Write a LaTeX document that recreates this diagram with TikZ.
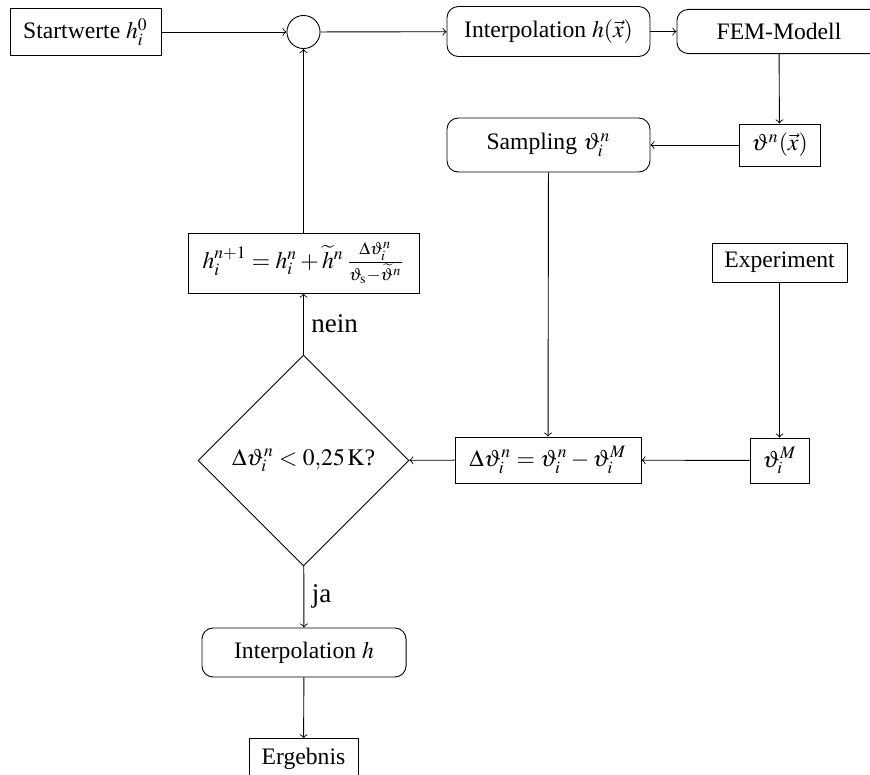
\documentclass[tikz,border=0pt]{standalone}
\usepackage{mathptmx}
\usepackage[no-math]{fontspec}
\setmainfont{Liberation Serif}
\usetikzlibrary{shapes.geometric}
\begin{document}
\begin{tikzpicture}[x=0.4444pt,y=-0.4444pt,>=to,line width=0.4pt,
  every node/.style={font=\fontsize{10.5}{12.5}\selectfont},
  plainbox/.style={draw,rectangle,inner sep=0pt,align=center},
  roundbox/.style={draw,rectangle,rounded corners=5pt,inner sep=0pt,minimum width=90.2pt,align=center},
  decision/.style={draw,diamond,aspect=1,inner sep=0pt,minimum width=93.8pt,minimum height=93.8pt},
  sumnode/.style={draw,circle,inner sep=0pt,minimum size=14.7pt},
  edgelabel/.style={right,font=\fontsize{12}{14}\selectfont}]
\useasboundingbox (0,0) rectangle (870,775);

\node[plainbox,minimum width=67.1pt,minimum height=20.9pt] (start) at (85.5,32) {Startwerte $h_i^0$};
\node[sumnode] (circ) at (303.5,32) {};
\node[roundbox,minimum height=22.2pt] (interp) at (548.5,31.5) {Interpolation $h(\vec{x})$};
\node[roundbox,minimum width=90.7pt,minimum height=19.6pt] (fem) at (779,31.5) {FEM-Modell};
\node[plainbox,minimum width=36pt,minimum height=18.7pt] (thetax) at (779.5,145) {$\vartheta^n(\vec{x})$};
\node[roundbox,minimum height=24pt] (samp) at (548.5,145) {Sampling $\vartheta_i^n$};
\node[plainbox,minimum width=60pt,minimum height=17.3pt] (exp) at (779.5,262.5) {Experiment};
\node[plainbox,minimum width=26.2pt,minimum height=20pt] (thetaM) at (779.5,460.5) {$\vartheta_i^M$};
\node[plainbox,minimum width=82.7pt,minimum height=20.4pt] (delta) at (548,460) {$\Delta\vartheta_i^n=\vartheta_i^n-\vartheta_i^M$};
\node[decision] (dec) at (303.5,460.5) {$\Delta\vartheta_i^n<0{,}25\,\mathrm{K}$?};
\node[plainbox,minimum width=102.7pt,minimum height=26.7pt] (upd) at (303.5,263) {$h_i^{n+1}=h_i^n+\widetilde{h}^n\,\frac{\Delta\vartheta_i^n}{\vartheta_{\mathrm{s}}-\widetilde{\vartheta}^n}$};
\node[roundbox,minimum width=90.7pt,minimum height=21.8pt] (interph) at (304,652.5) {Interpolation $h$};
\node[plainbox,minimum width=48.4pt,minimum height=18pt] (erg) at (303.5,759) {Ergebnis};

\draw[->] (start) -- (circ);
\draw[->] (circ) -- (interp);
\draw[->] (interp) -- (fem);
\draw[->] (fem) -- (thetax);
\draw[->] (thetax) -- (samp);
\draw[->] (samp) -- (delta);
\draw[->] (exp) -- (thetaM);
\draw[->] (thetaM) -- (delta);
\draw[->] (delta) -- (dec);
\draw[->] (dec) -- node[edgelabel] (neinlbl) {nein} (upd);
\draw[->] (upd) -- (circ);
\draw[->] (dec) -- node[edgelabel] (jalbl) {ja} (interph);
\draw[->] (interph) -- (erg);
\end{tikzpicture}
\end{document}
